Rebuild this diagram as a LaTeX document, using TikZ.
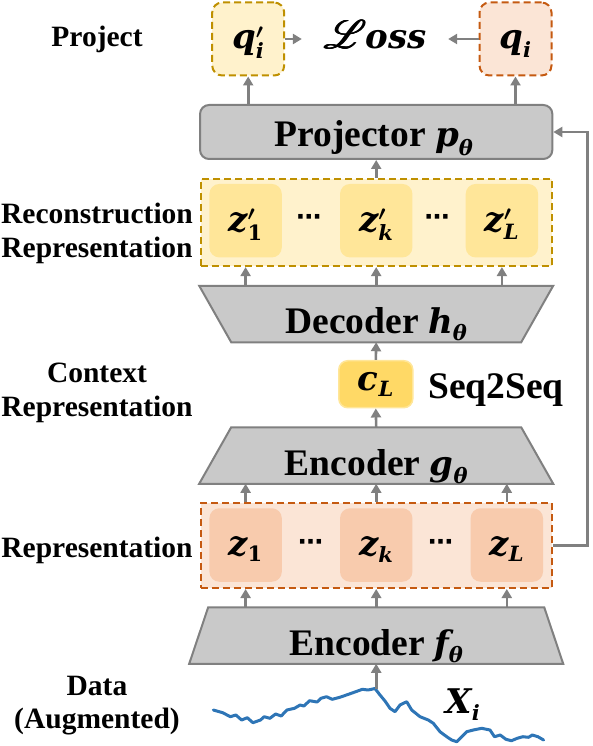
\documentclass[tikz,border=0pt]{standalone}
\usepackage{fontspec}
\usepackage{amsmath}
\usepackage{graphicx}
\usepackage{mathrsfs}
\setmainfont{Liberation Serif}
\newfontfamily\mvfont{DejaVu Serif}
\newfontfamily\dvsans{DejaVu Sans}
\newcommand{\mv}[1]{{\mvfont\bfseries\itshape #1}}
\newcommand{\mtxt}[1]{\text{\mv{#1}}}
\newcommand{\mupr}[1]{\text{\mvfont\bfseries #1}}
\newcommand{\fakebold}[1]{\rlap{#1}\kern0.5pt\rlap{#1}\kern0.5pt\rlap{#1}\kern0.5pt#1}
\DeclareMathSizes{34}{34}{21}{16}
\newcommand{\mfs}{\fontsize{34}{40}\selectfont\boldmath}
\usetikzlibrary{arrows.meta}
\definecolor{gfill}{HTML}{C9C9C9}
\definecolor{gline}{HTML}{808080}
\definecolor{arrc}{HTML}{808080}
\definecolor{ylight}{HTML}{FFF2CC}
\definecolor{ymid}{HTML}{FFE699}
\definecolor{ystrong}{HTML}{FFD966}
\definecolor{ydash}{HTML}{BF9000}
\definecolor{olight}{HTML}{FBE5D6}
\definecolor{omid}{HTML}{F8CBAD}
\definecolor{odash}{HTML}{C55A11}
\definecolor{wblue}{HTML}{2E75B6}
\tikzset{
  arr/.style={draw=arrc, line width=2.6pt, -{Triangle[length=9pt,width=10pt]}},
  grp/.style={rectangle, line width=2pt, dash pattern=on 7pt off 4pt, minimum width=351pt, inner sep=0pt},
  qbox/.style={rectangle, rounded corners=10pt, line width=2pt, dash pattern=on 7pt off 4pt, minimum width=72pt, minimum height=73pt, inner sep=0pt},
  graybox/.style={rectangle, draw=gline, fill=gfill, line width=2pt, rounded corners=9pt, inner sep=0pt},
  cell/.style={rectangle, rounded corners=10pt, minimum width=72.4pt, minimum height=73.5pt, inner sep=0pt},
  trapnode/.style={rectangle, inner sep=0pt, outer sep=1pt, minimum height=54.5pt},
  trapdraw/.style={draw=gline, fill=gfill, line width=2pt, line join=miter},
  lbl/.style={font=\fontsize{29.5}{34}\selectfont\bfseries, inner sep=0pt, anchor=base},
  bigtext/.style={font=\fontsize{37.5}{44}\selectfont\bfseries, inner sep=0pt, anchor=base},
  mtext/.style={font=\mfs, inner sep=0pt, anchor=base},
  dotsty/.style={font=\fontsize{25}{30}\selectfont\dvsans\bfseries, inner sep=0pt},
  wave/.style={draw=wblue, line width=3pt, line join=round, line cap=round}
}
\begin{document}
\begin{tikzpicture}[x=1pt,y=-1pt]
\useasboundingbox (0,0) rectangle (592,746);

% left labels
\node[lbl] (lproj) at (97,47) {Project};
\node[lbl] (lrec1) at (97,223) {Reconstruction};
\node[lbl] (lrec2) at (97,257) {Representation};
\node[lbl] (lctx1) at (97,382) {Context};
\node[lbl] (lctx2) at (97,416) {Representation};
\node[lbl] (lrep) at (97,557) {Representation};
\node[lbl] (ldat1) at (97,695) {Data};
\node[lbl] (ldat2) at (97,728) {(Augmented)};

% projection outputs
\node[qbox, draw=ydash, fill=ylight] (qp) at (248.2,39) {};
\node[qbox, draw=odash, fill=olight] (q) at (515.5,39) {};
\node[mtext] (qpt) at (248.2,49) {$\mtxt{q}'_{\mtxt{i}}$};
\node[mtext] (qt) at (515.5,49) {$\mtxt{q}_{\mtxt{i}}$};
\node[mtext, inner xsep=21pt] (loss) at (375,49) {\fakebold{\scalebox{1.6}{$\mathscr{L}$}}\kern-1pt$\mtxt{oss}$};

% projector
\node[graybox, minimum width=352.3pt, minimum height=54pt] (proj) at (376.2,132) {};
\node[bigtext] (projt) at (374,147) {Projector {\mfs$\mtxt{p}_{\mtxt{θ}}$}};

% reconstruction representation
\node[grp, draw=ydash, fill=ylight, minimum height=87pt] (zrec) at (376.2,222.6) {};
\node[cell, fill=ymid] (zp1) at (245.6,220.7) {};
\node[cell, fill=ymid] (zpk) at (376.2,220.7) {};
\node[cell, fill=ymid] (zpL) at (501.9,220.7) {};
\node[mtext] (zp1t) at (245.6,231.7) {$\mtxt{z}'_{\mupr{1}}$};
\node[mtext] (zpkt) at (376.2,231.7) {$\mtxt{z}'_{\mtxt{k}}$};
\node[mtext] (zpLt) at (501.9,231.7) {$\mtxt{z}'_{\mtxt{L}}$};
\node[dotsty] (dp1) at (308.8,220) {⋯};
\node[dotsty] (dp2) at (437,220) {⋯};

% decoder (wide top, narrow bottom)
\node[trapnode, minimum width=288pt] (dec) at (376.2,314) {};
\path[trapdraw] ([xshift=-32pt]dec.north west) -- ([xshift=32pt]dec.north east) -- (dec.south east) -- (dec.south west) -- cycle;
\node[bigtext] (dect) at (376.5,333) {Decoder {\mfs$\mtxt{h}_{\mtxt{θ}}$}};

% context
\node[rectangle, rounded corners=9pt, fill=ystrong, draw=ymid, line width=1.5pt, minimum width=74pt, minimum height=47pt, inner sep=0pt] (cl) at (375.8,384.2) {};
\node[mtext] (clt) at (375.8,390) {$\mtxt{c}_{\mtxt{L}}$};
\node[bigtext] (s2s) at (496,398) {Seq2Seq};

% encoder g (narrow top, wide bottom)
\node[trapnode, minimum width=288pt] (encg) at (376.2,455.5) {};
\path[trapdraw] (encg.north west) -- (encg.north east) -- ([xshift=32pt]encg.south east) -- ([xshift=-32pt]encg.south west) -- cycle;
\node[bigtext] (encgt) at (376.5,475) {Encoder {\mfs$\mtxt{g}_{\mtxt{θ}}$}};

% representation
\node[grp, draw=odash, fill=olight, minimum height=85pt] (zgrp) at (376.2,545.5) {};
\node[cell, fill=omid] (z1) at (245.6,545) {};
\node[cell, fill=omid] (zk) at (376.2,545) {};
\node[cell, fill=omid] (zL) at (506.8,545) {};
\node[mtext] (z1t) at (245.6,555) {$\mtxt{z}_{\mupr{1}}$};
\node[mtext] (zkt) at (376.2,555) {$\mtxt{z}_{\mtxt{k}}$};
\node[mtext] (zLt) at (506.8,555) {$\mtxt{z}_{\mtxt{L}}$};
\node[dotsty] (d1) at (310.5,545) {⋯};
\node[dotsty] (d2) at (440.7,545) {⋯};

% encoder f (narrow top, wide bottom)
\node[trapnode, minimum width=334pt] (encf) at (376.2,635.5) {};
\path[trapdraw] (encf.north west) -- (encf.north east) -- ([xshift=19pt]encf.south east) -- ([xshift=-19pt]encf.south west) -- cycle;
\node[bigtext] (encft) at (376.5,655) {Encoder {\mfs$\mtxt{f}_{\mtxt{θ}}$}};

% data
\draw[wave] (213.3,710) -- (222.7,712.7) -- (230.3,716.7) -- (235.9,715) -- (241.6,720) -- (247.3,717.7) -- (252.9,722.7) -- (260.5,720) -- (264.2,716.7) -- (269.9,718.3) -- (275.6,714) -- (281.2,716) -- (286.9,710) -- (294.5,708.3) -- (300.1,705) -- (303.9,706) -- (309.6,700.7) -- (317.1,702) -- (320.9,698.3) -- (326.5,696.7) -- (332.2,699.3) -- (339.8,697.3) -- (347.3,694.7) -- (354.9,692) -- (362.4,689.3) -- (368.1,690) -- (375,688.5) -- (380,695) -- (385,701) -- (390,708.3) -- (395,711.7) -- (400,705) -- (406.7,701.7) -- (411.7,710) -- (420,716.7) -- (428.3,720) -- (433.3,723.3) -- (440,731.7) -- (446.7,736.7) -- (451.7,740) -- (456.7,741.7) -- (461.7,736.7) -- (466.7,731.7) -- (473.3,730) -- (481.7,728.3) -- (490,730) -- (494.5,736.7) -- (500.2,735) -- (505.9,739.3) -- (511.5,740.7) -- (517.2,738.3) -- (522.8,736.7) -- (528.5,737.3) -- (532.3,735) -- (537.9,736.7) -- (543.6,740);
\coordinate (peak) at (375,689);
\node[mtext] (xi) at (463,713) {$\mtxt{X}_{\mtxt{i}}$};

% connectors
\draw[arr] (encf.south |- peak) -- (encf.south);
\foreach \c in {z1,zk,zL} \draw[arr] (encf.north -| \c) -- (zgrp.south -| \c);
\foreach \c in {z1,zk,zL} \draw[arr] (zgrp.north -| \c) -- (encg.south -| \c);
\draw[arr] (encg.north) -- (cl.south);
\draw[arr] (cl.north) -- (dec.south);
\foreach \c in {zp1,zpk,zpL} \draw[arr] (dec.north -| \c) -- (zrec.south -| \c);
\draw[arr] (zrec.north) -- (proj.south);
\draw[arr] (zgrp.east) -- ++(34.7,0) |- (proj.east);
\draw[arr] (proj.north -| qp) -- (qp.south);
\draw[arr] (proj.north -| q) -- (q.south);
\draw[arr] (qp.east) -- (qp.east -| loss.west);
\draw[arr] (q.west) -- (q.west -| loss.east);
\end{tikzpicture}
\end{document}
